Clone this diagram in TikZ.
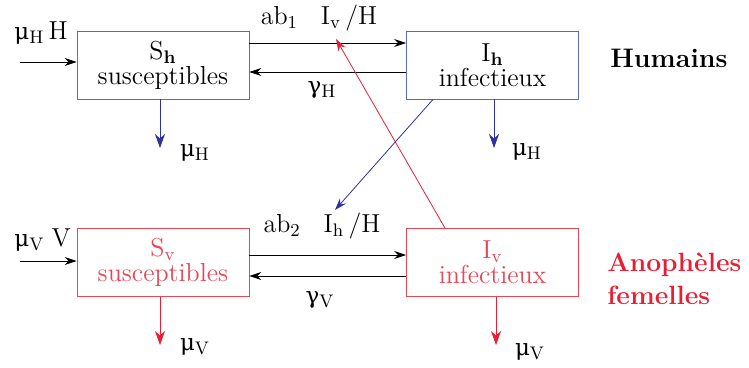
\documentclass[tikz,border=0pt]{standalone}
\usepackage{fontspec}
\newfontfamily\grk{DejaVu Serif}
\newcommand{\gmu}{{\grk\fontsize{11.5}{12}\selectfont μ}}
\newcommand{\ggam}{{\grk\fontsize{11.5}{12}\selectfont γ}}
\usepackage{tikz}
\usetikzlibrary{arrows.meta, positioning}
\definecolor{boxblue}{RGB}{95,105,185}
\definecolor{arrblue}{RGB}{45,50,160}
\definecolor{boxred}{RGB}{230,70,85}
\definecolor{arrred}{RGB}{232,30,50}
\tikzstyle{comp}  = [draw, rectangle, minimum width=86pt, minimum height=34pt,
                     inner sep=0pt, align=center, font=\fontsize{13}{12.5}\selectfont]
\tikzstyle{lbl}   = [inner sep=0pt, font=\fontsize{13}{14}\selectfont]
\tikzstyle{arrow} = [thin, -{Stealth[length=6pt,width=4pt]}]
\tikzstyle{death} = [thin, -{Stealth[length=7pt,width=5pt]}]

\begin{document}
\begin{tikzpicture}[x=0.5pt, y=-0.5pt]
  \useasboundingbox (0,0) rectangle (749,368);

  % --- Humains ---
  \node[comp, draw=boxblue] (sh) at (163,65) {S\textsubscript{\textbf{h}}\\susceptibles};
  \node[comp, draw=boxblue] (ih) at (492.5,65) {I\textsubscript{\textbf{h}}\\infectieux};
  \node[lbl, font=\fontsize{13.4}{16}\selectfont\bfseries, anchor=west] (hum) at (610,58) {Humains};

  % --- Anopheles ---
  \node[comp, draw=boxred, text=boxred] (sv) at (163,262.5) {S\textsubscript{v}\\susceptibles};
  \node[comp, draw=boxred, text=boxred] (iv) at (492.5,262.5) {I\textsubscript{v}\\infectieux};
  \node[lbl, font=\fontsize{13.2}{16.5}\selectfont\bfseries, text=arrred, align=left,
        anchor=west] (anoph) at (607,279) {Anophèles\\femelles};

  % Free ends
  \coordinate (inh) at (20,62);
  \coordinate (inv) at (20,261);
  \coordinate (dsh) at (160,148);
  \coordinate (dih) at (494,148);
  \coordinate (dsv) at (160,345);
  \coordinate (div) at (496,345);
  \coordinate (tiv) at (336,39);
  \coordinate (tih) at (335,210);

  % Labels
  \node[lbl, anchor=west] (lmuhh) at (14,33) {\gmu\textsubscript{H}\,H};
  \node[lbl, anchor=west] (lmuvv) at (14,240) {\gmu\textsubscript{V}\;V};
  \node[lbl] (lab1) at (319,18) {ab\textsubscript{1}\;\; I\textsubscript{v}\,/H};
  \node[lbl] (lab2) at (322,226) {ab\textsubscript{2}\;\; I\textsubscript{h}\,/H};
  \node[lbl] (lgh) at (322,90) {\ggam\textsubscript{H}};
  \node[lbl] (lgv) at (320,300) {\ggam\textsubscript{V}};
  \node[lbl] (lmu1) at (195,153) {\gmu\textsubscript{H}};
  \node[lbl] (lmu2) at (527,152) {\gmu\textsubscript{H}};
  \node[lbl] (lmu3) at (195,347) {\gmu\textsubscript{V}};
  \node[lbl] (lmu4) at (530,352) {\gmu\textsubscript{V}};

  % Connections
  \draw[arrow] (inh) -- (sh.west |- inh);
  \draw[arrow] (inv) -- (sv.west |- inv);
  \draw[arrow] ([yshift=11pt]sh.east) -- ([yshift=11pt]ih.west);
  \draw[arrow] ([yshift=-3.5pt]ih.west) -- ([yshift=-3.5pt]sh.east);
  \draw[arrow] ([yshift=3.75pt]sv.east) -- ([yshift=3.75pt]iv.west);
  \draw[arrow] ([yshift=-6.75pt]iv.west) -- ([yshift=-6.75pt]sv.east);

  \draw[death, arrblue] (sh.south -| dsh) -- (dsh);
  \draw[death, arrblue] (ih.south -| dih) -- (dih);
  \draw[death, arrred]  (sv.south -| dsv) -- (dsv);
  \draw[death, arrred]  (iv.south -| div) -- (div);

  \draw[arrow, arrred]  ([xshift=-23.75pt]iv.north) -- (tiv);
  \draw[arrow, arrblue] ([xshift=-29.75pt]ih.south) -- (tih);
\end{tikzpicture}
\end{document}
